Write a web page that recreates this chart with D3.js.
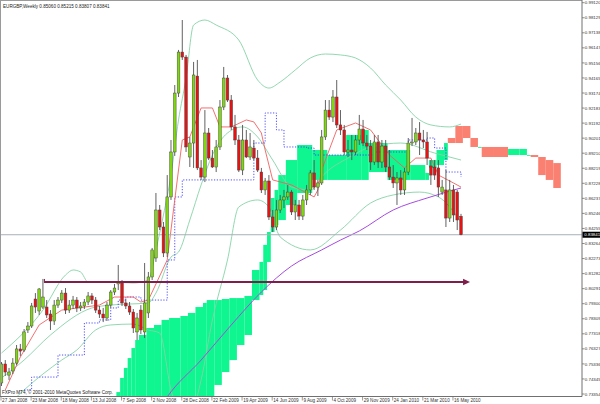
<!DOCTYPE html>
<html><head><meta charset="utf-8">
<script src="https://cdn.jsdelivr.net/npm/d3@7/dist/d3.min.js"></script>
<style>html,body{margin:0;padding:0;background:#fff;}svg{display:block;}</style>
</head><body>
<script>
const title = "EURGBP,Weekly  0.85060 0.85215 0.83807 0.83841";
const copyright = "FXPro MT4, \u00A9 2001-2010 MetaQuotes Software Corp.";
const dateLabels = ["27 Jan 2008","23 Mar 2008","18 May 2008","13 Jul 2008","7 Sep 2008","2 Nov 2008","28 Dec 2008","22 Feb 2009","19 Apr 2009","14 Jun 2009","9 Aug 2009","4 Oct 2009","29 Nov 2009","24 Jan 2010","21 Mar 2010","16 May 2010"];
const dateTickBars = [0,8,16,24,32,40,48,56,64,72,80,88,96,104,112,120];
const priceTicks = ["0.99120","0.98129","0.97138","0.96147","0.95156","0.94165","0.93174","0.92183","0.91192","0.90201","0.89210","0.88219","0.87228","0.86237","0.85246","0.84255","0.83264","0.82273","0.81282","0.80291","0.79300","0.78309","0.77318","0.76327","0.75336","0.74345","0.73354"];

const open = [0.7408,0.7533,0.7460,0.7487,0.7539,0.7632,0.7625,0.7757,0.7783,0.7961,0.7882,0.7908,0.7908,0.7862,0.7816,0.7921,0.7954,0.8000,0.7888,0.7921,0.7954,0.7902,0.7915,0.7941,0.7981,0.7954,0.7888,0.7862,0.7836,0.7921,0.8007,0.8060,0.8066,0.7935,0.7915,0.7875,0.7744,0.7888,0.7744,0.7869,0.8106,0.8231,0.8547,0.8435,0.8264,0.8633,0.8929,0.9317,0.9587,0.9554,0.8896,0.8988,0.9429,0.8824,0.8764,0.9054,0.8889,0.8830,0.8962,0.9225,0.9416,0.9271,0.9094,0.9008,0.8810,0.9008,0.8896,0.8955,0.8889,0.8797,0.8679,0.8738,0.8501,0.8435,0.8547,0.8613,0.8633,0.8665,0.8534,0.8580,0.8507,0.8613,0.8679,0.8791,0.8698,0.8725,0.9028,0.9205,0.9159,0.9291,0.9107,0.9074,0.8929,0.8942,0.8929,0.9008,0.9080,0.8988,0.8968,0.8863,0.8995,0.8863,0.8968,0.8830,0.8764,0.8725,0.8758,0.8679,0.8797,0.8988,0.8995,0.9054,0.9008,0.8995,0.8837,0.8830,0.8824,0.8665,0.8679,0.8494,0.8679,0.8665,0.85060];
const high = [0.7546,0.7559,0.7507,0.7572,0.7658,0.7665,0.7763,0.7809,0.7935,0.8000,0.8033,0.8093,0.7954,0.7888,0.7954,0.7974,0.8020,0.8033,0.7954,0.7981,0.7974,0.7941,0.7961,0.8007,0.8000,0.7974,0.7915,0.7902,0.7941,0.8020,0.8060,0.8185,0.8086,0.7961,0.7941,0.7895,0.7869,0.7921,0.8198,0.8139,0.8297,0.8659,0.8580,0.8468,0.8777,0.9008,0.9370,0.9601,0.9798,0.9568,0.9028,0.9522,0.9535,0.8876,0.9205,0.9087,0.8942,0.9008,0.9271,0.9489,0.9436,0.9304,0.9173,0.9041,0.9107,0.9074,0.9054,0.9008,0.8942,0.8824,0.8758,0.8777,0.8547,0.8613,0.8646,0.8679,0.8712,0.8679,0.8613,0.8613,0.8646,0.8712,0.8810,0.8876,0.8745,0.9074,0.9271,0.9271,0.9337,0.9403,0.9205,0.9107,0.9008,0.9041,0.9041,0.9173,0.9140,0.9041,0.9008,0.9041,0.9041,0.9008,0.9008,0.8942,0.8843,0.8797,0.8810,0.8824,0.9021,0.9153,0.9087,0.9126,0.9074,0.9061,0.8876,0.8876,0.8876,0.8745,0.8810,0.8745,0.8712,0.8679,0.85215];
const low = [0.7388,0.7454,0.7428,0.7467,0.7526,0.7586,0.7612,0.7737,0.7770,0.7869,0.7856,0.7895,0.7836,0.7757,0.7790,0.7902,0.7935,0.7862,0.7869,0.7895,0.7875,0.7882,0.7895,0.7921,0.7928,0.7869,0.7836,0.7809,0.7816,0.7902,0.7987,0.8020,0.7915,0.7895,0.7856,0.7737,0.7691,0.7730,0.7704,0.7836,0.8086,0.8205,0.8415,0.8237,0.8237,0.8613,0.8903,0.9291,0.9535,0.8929,0.8830,0.8824,0.8810,0.8745,0.8731,0.8876,0.8824,0.8797,0.8942,0.9205,0.9258,0.9074,0.8975,0.8797,0.8777,0.8889,0.8876,0.8876,0.8797,0.8659,0.8646,0.8481,0.8402,0.8415,0.8527,0.8560,0.8613,0.8514,0.8481,0.8481,0.8481,0.8580,0.8646,0.8679,0.8639,0.8712,0.9008,0.9140,0.9126,0.9087,0.9041,0.8909,0.8896,0.8876,0.8909,0.8975,0.8968,0.8942,0.8810,0.8843,0.8824,0.8824,0.8797,0.8745,0.8692,0.8580,0.8646,0.8646,0.8777,0.8968,0.8975,0.8909,0.8955,0.8843,0.8712,0.8745,0.8633,0.8646,0.8435,0.8468,0.8468,0.8415,0.83807];
const close = [0.7533,0.7480,0.7480,0.7539,0.7632,0.7618,0.7744,0.7783,0.7915,0.7908,0.8027,0.7974,0.7856,0.7816,0.7921,0.7954,0.8000,0.7888,0.7921,0.7954,0.7902,0.7915,0.7941,0.7981,0.7954,0.7888,0.7862,0.7836,0.7921,0.8007,0.8033,0.8073,0.7935,0.7915,0.7875,0.7770,0.7836,0.7757,0.7935,0.8106,0.8284,0.8547,0.8435,0.8264,0.8633,0.8929,0.9317,0.9587,0.9554,0.8962,0.8988,0.9436,0.8824,0.8764,0.9054,0.8889,0.8830,0.8962,0.9225,0.9416,0.9271,0.9094,0.9008,0.8810,0.9008,0.8896,0.8962,0.8889,0.8810,0.8679,0.8738,0.8501,0.8435,0.8547,0.8613,0.8633,0.8665,0.8534,0.8580,0.8507,0.8613,0.8679,0.8791,0.8698,0.8725,0.9028,0.9205,0.9159,0.9291,0.9107,0.9074,0.8929,0.8942,0.8929,0.9008,0.9080,0.8988,0.8968,0.8863,0.8995,0.8863,0.8968,0.8830,0.8764,0.8725,0.8758,0.8679,0.8797,0.8988,0.8995,0.9054,0.9008,0.8995,0.8889,0.8777,0.8777,0.8698,0.8698,0.8494,0.8679,0.8514,0.8481,0.83841];

const upperBars = [0,11,17,19,21,23,29,35,39,41,43,45,47,49,51,54,57,63,68,71,74,78,82,86,90,94,98,102,106,110,114,119,122];
const bbUpper = [0.7605,0.7888,0.8119,0.8152,0.8139,0.8073,0.8073,0.8066,0.8086,0.8284,0.8514,0.8777,0.9140,0.9416,0.9765,0.9798,0.9765,0.9666,0.9403,0.9350,0.9390,0.9469,0.9548,0.9574,0.9568,0.9548,0.9482,0.9370,0.9271,0.9159,0.9107,0.9094,0.9113];
const middleBars = [0,6,13,24,29,39,41,45,47,50,53,56,60,64,68,72,77,82,86,92,98,106,115,122];
const bbMiddle = [0.7441,0.7559,0.7724,0.7902,0.7921,0.7935,0.8000,0.8237,0.8270,0.8481,0.8712,0.8909,0.9054,0.9094,0.9028,0.8876,0.8698,0.8679,0.8791,0.8889,0.8962,0.8988,0.8922,0.8876];
const lowerBars = [0,6,16,20,25,29,35,39,42,45,49,53,56,60,63,68,71,74,82,90,98,104,111,116,122];
const bbLower = [0.7217,0.7362,0.7559,0.7625,0.7757,0.7790,0.7796,0.7757,0.7737,0.7362,0.7131,0.7428,0.7823,0.8218,0.8567,0.8613,0.8567,0.8369,0.8284,0.8415,0.8593,0.8646,0.8665,0.8633,0.8468];
const tenkanBars = [1,5,10,16,26,30,35,37,39,44,48,50,53,56,58,61,65,67,69,70,72,77,83,84,85,89,94,98,103,107,110,114,116,120,122];
const tenkan = [0.7362,0.7579,0.7790,0.7888,0.7921,0.7974,0.7974,0.7941,0.7954,0.8218,0.9008,0.9028,0.9219,0.9219,0.9094,0.9094,0.9140,0.9127,0.9054,0.8942,0.8745,0.8712,0.8633,0.8679,0.8810,0.9074,0.9120,0.9074,0.8909,0.8824,0.8889,0.8889,0.8777,0.8725,0.8698];
const kijunBars = [6,8,15,22,26,29,31,33,37,44,46,48,63,67,70,73,75,81,83,86,99,108,113,115,118,122];
const kijun = [0.7362,0.7447,0.7592,0.7803,0.7823,0.7902,0.7954,0.7974,0.7954,0.8218,0.8633,0.8745,0.8745,0.8988,0.9186,0.9074,0.8962,0.8955,0.8909,0.8909,0.8929,0.9008,0.9021,0.8955,0.8797,0.8764];
const maBars = [41,44,53,61,69,77,85,90,95,104,113,122];
const ma = [0.7200,0.7316,0.7559,0.7790,0.8007,0.8178,0.8284,0.8349,0.8409,0.8547,0.8626,0.8692];
const cloudBars = [31,32,33,34,35,36,37,39,41,43,45,48,50,52,54,55,57,59,61,63,65,67,69,70,71,72,73,74,76,79,83,87,92,96,98,103,109,113,114,116,118,119,121,123,125,127,128,131,135,138,140,141,143,145,147];
const spanA = [0.7348,0.7441,0.7507,0.7572,0.7638,0.7691,0.7724,0.7770,0.7790,0.7823,0.7836,0.7849,0.7869,0.7908,0.7935,0.7954,0.7954,0.7961,0.7967,0.7967,0.7981,0.8152,0.8205,0.8317,0.8402,0.8626,0.8679,0.8777,0.8876,0.8975,0.8942,0.8909,0.9041,0.9074,0.8988,0.8942,0.8843,0.8791,0.8876,0.8942,0.8988,0.8988,0.8988,0.9021,0.8962,0.8962,0.8896,0.8896,0.8949,0.8949,0.8909,0.8896,0.8777,0.8745,0.8692];
const spanB = [0.7098,0.7098,0.7098,0.7098,0.7098,0.7098,0.7098,0.7098,0.7098,0.7098,0.7098,0.7098,0.7098,0.7098,0.7098,0.7309,0.7395,0.7480,0.7559,0.7658,0.7724,0.7954,0.7987,0.8020,0.8205,0.8402,0.8448,0.8481,0.8580,0.8659,0.8745,0.8745,0.8745,0.8745,0.8797,0.8745,0.8745,0.8745,0.8824,0.8843,0.8876,0.9021,0.9100,0.9100,0.9021,0.8962,0.8962,0.8962,0.8909,0.8909,0.8909,0.8909,0.8896,0.8876,0.8856];
const cloudEnd = 148;
const arrowFrom = 11.4, arrowTo = 124.4, arrowPrice = 0.8073;

const W = 600, H = 404, plotR = 582, plotB = 396.5;
const svg = d3.select("body").append("svg").attr("width", W).attr("height", H)
  .style("font-family", "'Liberation Sans', Arial, sans-serif");
const x = d3.scaleLinear().domain([0, 122]).range([1.5, 461]);
const y = d3.scaleLinear().domain([0.73354, 0.99120]).range([394, 2.7]);
const step = x(1) - x(0);

svg.append("clipPath").attr("id", "plot").append("rect")
  .attr("x", 0).attr("y", 0).attr("width", plotR).attr("height", plotB);
const g = svg.append("g").attr("clip-path", "url(#plot)");

// cloud
cloudBars.forEach((b, k) => {
  const nb = k < cloudBars.length - 1 ? cloudBars[k + 1] : cloudEnd + 1;
  const a = spanA[k], bb = spanB[k];
  g.append("rect")
    .attr("x", x(b) - step / 2).attr("width", x(nb) - x(b))
    .attr("y", y(Math.max(a, bb))).attr("height", Math.max(0.8, y(Math.min(a, bb)) - y(Math.max(a, bb))))
    .attr("fill", a >= bb ? "#0ff58f" : "#fa8072");
});

// lines
const line = (bars, vals, curve) => d3.line().x((d, i) => x(bars[i])).y(d => y(d)).curve(curve || d3.curveLinear)(vals);
[[upperBars, bbUpper], [middleBars, bbMiddle], [lowerBars, bbLower]].forEach(([b, v]) => g.append("path").attr("d", line(b, v, d3.curveMonotoneX))
  .attr("fill", "none").attr("stroke", "#86d3a6").attr("stroke-width", 0.9));
g.append("path").attr("d", line(maBars, ma, d3.curveMonotoneX)).attr("fill", "none").attr("stroke", "#a64be0").attr("stroke-width", 1);
g.append("path").attr("d", line(kijunBars, kijun, d3.curveStepAfter)).attr("fill", "none").attr("stroke", "#3a3aff")
  .attr("stroke-width", 0.9).attr("stroke-dasharray", "1.2,1.6");
g.append("path").attr("d", line(tenkanBars, tenkan)).attr("fill", "none").attr("stroke", "#f26060").attr("stroke-width", 0.9);

// current price line
g.append("line").attr("x1", 0).attr("x2", plotR).attr("y1", y(close[close.length - 1])).attr("y2", y(close[close.length - 1]))
  .attr("stroke", "#a7b0b8").attr("stroke-width", 1);

// candles
const bw = 2.7;
close.forEach((c, i) => {
  const o = open[i], up = c >= o;
  g.append("line").attr("x1", x(i)).attr("x2", x(i)).attr("y1", y(high[i])).attr("y2", y(low[i]))
    .attr("stroke", "#505050").attr("stroke-width", 0.9);
  g.append("rect").attr("x", x(i) - bw / 2).attr("width", bw)
    .attr("y", y(Math.max(o, c))).attr("height", Math.max(0.8, Math.abs(y(o) - y(c))))
    .attr("fill", up ? "#7fd80e" : "#e81212").attr("stroke", "#404040").attr("stroke-width", 0.45);
});

// arrow
const ay = y(arrowPrice);
g.append("line").attr("x1", x(arrowFrom)).attr("x2", x(arrowTo) - 4).attr("y1", ay).attr("y2", ay)
  .attr("stroke", "#7d1f4a").attr("stroke-width", 2);
g.append("line").attr("x1", x(arrowFrom)).attr("x2", x(arrowFrom)).attr("y1", ay - 3).attr("y2", ay + 1)
  .attr("stroke", "#7d1f4a").attr("stroke-width", 1);
g.append("path").attr("d", `M${x(arrowTo)},${ay} L${x(arrowTo) - 7},${ay - 3.2} L${x(arrowTo) - 7},${ay + 3.2} Z`).attr("fill", "#7d1f4a");

// frame
svg.append("line").attr("x1", 0).attr("x2", plotR).attr("y1", 0.5).attr("y2", 0.5).attr("stroke", "#9a9a9a");
svg.append("line").attr("x1", 0.5).attr("x2", 0.5).attr("y1", 0).attr("y2", plotB).attr("stroke", "#9a9a9a");
svg.append("line").attr("x1", plotR).attr("x2", plotR).attr("y1", 0).attr("y2", plotB).attr("stroke", "#707070");
svg.append("line").attr("x1", 0).attr("x2", plotR).attr("y1", plotB).attr("y2", plotB).attr("stroke", "#707070");

// right axis
const ra = svg.append("g");
priceTicks.forEach(t => {
  const yy = y(+t);
  ra.append("line").attr("x1", plotR).attr("x2", plotR + 2.5).attr("y1", yy).attr("y2", yy).attr("stroke", "#707070").attr("stroke-width", 0.8);
  ra.append("text").attr("x", plotR + 2.8).attr("y", yy + 1.6).attr("font-size", 4.4).attr("fill", "#333").text(t);
});
const cy = y(close[close.length - 1]);
ra.append("rect").attr("x", plotR + 0.5).attr("y", cy - 3).attr("width", 17.5).attr("height", 6).attr("fill", "#000");
ra.append("text").attr("x", plotR + 2.3).attr("y", cy + 1.6).attr("font-size", 4.4).attr("fill", "#fff").text(d3.format(".5f")(close[close.length - 1]));

// bottom axis
const ba = svg.append("g");
dateTickBars.forEach((b, i) => {
  ba.append("line").attr("x1", x(b) - 0.5).attr("x2", x(b) - 0.5).attr("y1", plotB).attr("y2", plotB + 4).attr("stroke", "#707070").attr("stroke-width", 0.7);
  ba.append("text").attr("x", x(b) + 0.6).attr("y", plotB + 5.6).attr("font-size", 4.6).attr("fill", "#333").text(dateLabels[i]);
});

// texts
svg.append("text").attr("x", 3).attr("y", 8).attr("font-size", 4.6).attr("fill", "#222").text(title);
svg.append("text").attr("x", 2).attr("y", 393.5).attr("font-size", 4.6).attr("fill", "#222").text(copyright);
</script>
</body></html>
